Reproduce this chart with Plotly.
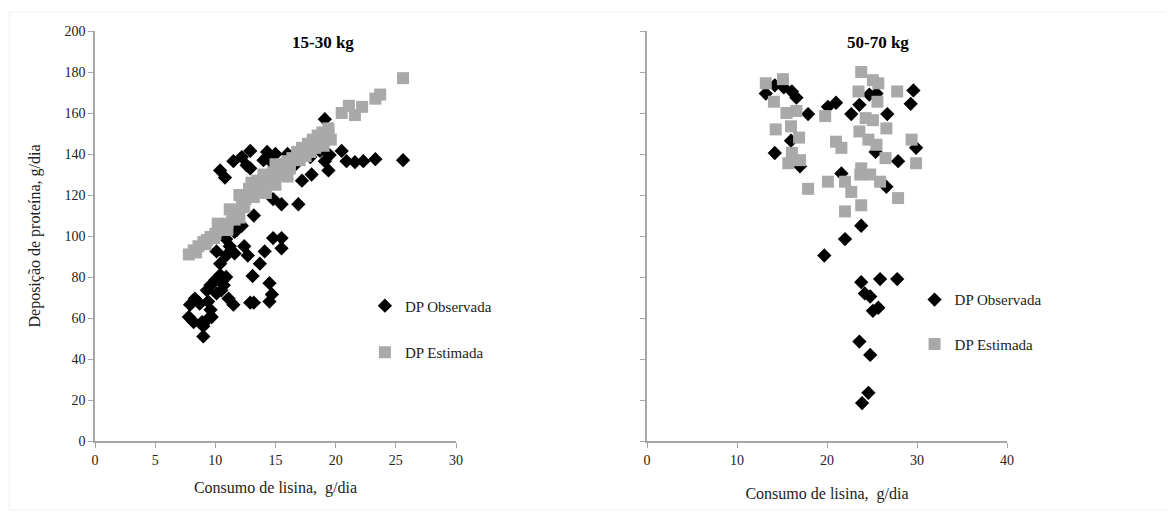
import plotly.graph_objects as go

# ---------------- data: 15-30 kg ----------------
obs1_x = [19.1, 12.9, 14.3, 12.2, 11.5, 10.4, 10.8, 12.6, 12.9, 14.0, 18.7, 19.5, 20.5, 17.9,
          19.1, 19.4, 20.9, 21.6, 22.3, 23.3, 25.6, 18.0, 17.2, 15.5, 16.9, 14.8, 13.2, 12.2,
          11.6, 14.8, 15.5, 15.5, 10.9, 10.1, 11.2, 11.6, 12.4, 12.7, 14.1, 10.4, 13.7, 13.1,
          14.5, 14.7, 14.5, 12.9, 13.2, 11.5, 11.1, 10.9, 10.4, 10.0, 9.6, 9.3, 10.7, 10.5,
          10.1, 9.4, 9.6, 9.7, 8.3, 7.9, 8.7, 7.8, 8.2, 8.9, 9.3, 9.0, 9.0, 10.9, 11.8, 16.0,
          15.0, 13.5, 16.5, 14.5]
obs1_y = [157, 141.5, 141, 138.5, 136.5, 132, 128.5, 134.5, 133, 137, 141.5, 139.5, 141.5, 138.5,
          136.5, 132, 136.5, 136, 136.5, 137.5, 137, 130, 127, 115.5, 115.5, 118, 110, 105,
          102, 99, 99, 94, 98.5, 92.5, 95, 91.5, 95, 90.5, 92.5, 86.5, 86.5, 80.5,
          77, 71.5, 68, 67.5, 67.5, 66.5, 69.5, 80, 81, 78.5, 76, 73.5, 76, 73.5,
          72, 68, 64, 60.5, 69.5, 66.5, 67, 60.5, 58, 58, 59, 56, 51, 90.5, 103, 140,
          140, 123, 134, 137]

est1_x = [7.8, 8.2, 8.6, 9.0, 9.3, 9.6, 10.0, 10.3, 10.6, 11.0, 11.4, 11.8, 12.2, 12.5,
          12.9, 13.3, 13.6, 14.0, 14.4, 14.8, 15.2, 15.6, 16.0, 16.4, 16.8, 17.2, 17.7,
          18.1, 18.5, 18.9, 19.4, 19.4, 19.6, 20.5, 21.1, 21.6, 22.2, 23.3, 23.7, 25.6,
          13.0, 14.0, 15.0, 16.0, 11.0, 12.0, 8.4, 9.2, 9.9, 10.8, 11.6, 12.4, 13.2, 13.9,
          14.6, 15.4, 16.2, 17.0, 17.9, 18.7, 12.0, 12.8, 13.5, 14.2, 15.0, 15.8, 17.5,
          18.3, 19.1, 19.0, 11.2, 10.2]
est1_y = [91, 93, 95, 97, 98, 99.5, 101, 103, 104.5, 106, 109, 112, 115, 118,
          121, 123, 125, 127, 129, 131, 133, 135, 136.5, 138, 141, 143, 145,
          147, 149, 150.5, 152.5, 149, 147, 160, 163.5, 159, 163, 167, 169, 177,
          126, 130, 135, 129, 103, 109, 92, 96, 99, 103, 108, 114, 119, 124,
          127, 130, 133, 137, 141, 146, 120, 123, 127, 121, 125, 131, 139,
          143, 148, 144, 113, 106]

# ---------------- data: 50-70 kg ----------------
obs2_x = [13.2, 14.2, 15.2, 16.1, 16.6, 17.9, 20.1, 21.0, 22.7, 23.6, 24.7, 25.5, 26.7, 29.6,
          29.3, 16.0, 14.2, 17.0, 21.6, 25.4, 27.9, 29.9, 26.6, 23.8, 22.0, 19.7, 23.8, 25.9,
          27.8, 24.2, 24.8, 25.1, 25.7, 23.6, 24.8, 24.6, 23.9]
obs2_y = [169.5, 173.5, 172.5, 170.5, 167.5, 159.5, 163, 165, 159.5, 164, 169, 169.5, 159.5, 171,
          164.5, 146.5, 140.5, 134, 130.5, 141, 136.5, 143, 124, 105, 98.5, 90.5, 77.5, 79,
          79, 72, 70.5, 63.5, 65, 48.5, 42, 23.5, 18.5]

est2_x = [13.2, 15.1, 14.1, 15.5, 16.6, 14.3, 16.0, 16.9, 16.1, 15.7, 17.0, 17.9, 19.8, 21.0,
          21.6, 20.1, 22.0, 22.7, 22.0, 23.8, 23.8, 25.1, 25.7, 23.5, 25.6, 27.8, 24.3, 25.1,
          26.6, 23.6, 24.6, 25.5, 26.5, 29.4, 29.9, 23.8, 23.7, 24.8, 25.9, 27.9]
est2_y = [174.5, 176.5, 165.5, 160, 161, 152, 153.5, 148, 140.5, 135.5, 137, 123, 158.5, 146,
          143, 126.5, 126.5, 121.5, 112, 115, 180, 176, 174.5, 170.5, 165.5, 170.5, 157.5, 156.5,
          152.5, 151, 147, 144.5, 138, 147, 135.5, 133, 130, 130, 126.5, 118.5]

panel_titles = ["15-30 kg", "50-70 kg"]
series_names = ["DP Observada", "DP Estimada"]
x_title = "Consumo de lisina,  g/dia"
y_title = "Deposição de proteína, g/dia"

FONT = "Liberation Serif"
AXIS_COLOR = "#a6a6a6"
GREY = "#a9a9a9"
W, H, OFF = 1174, 513, 8  # page has an 8px body margin


def px(x):
    return (x - OFF) / W


def py(y):
    return 1 - (y - OFF) / H


fig = go.Figure()

# left panel
fig.add_trace(go.Scatter(x=obs1_x, y=obs1_y, mode="markers", name=series_names[0],
                         marker=dict(symbol="diamond", size=11, color="black"),
                         xaxis="x", yaxis="y", legend="legend", legendgroup="a"))
fig.add_trace(go.Scatter(x=est1_x, y=est1_y, mode="markers", name=series_names[1],
                         marker=dict(symbol="square", size=12, color=GREY),
                         xaxis="x", yaxis="y", legend="legend", legendgroup="b"))
# right panel
fig.add_trace(go.Scatter(x=obs2_x, y=obs2_y, mode="markers", name=series_names[0],
                         marker=dict(symbol="diamond", size=11, color="black"),
                         xaxis="x2", yaxis="y2", legend="legend2", legendgroup="c"))
fig.add_trace(go.Scatter(x=est2_x, y=est2_y, mode="markers", name=series_names[1],
                         marker=dict(symbol="square", size=12, color=GREY),
                         xaxis="x2", yaxis="y2", legend="legend2", legendgroup="d"))

ydom = [py(441), py(31)]
axis_common = dict(showline=True, linecolor=AXIS_COLOR, linewidth=1.5, ticks="outside",
                   ticklen=5, tickcolor=AXIS_COLOR, showgrid=False, zeroline=False,
                   automargin=False,
                   tickfont=dict(family=FONT, size=14, color="#222"))

fig.update_layout(
    width=W, height=H,
    margin=dict(l=0, r=0, t=0, b=0, autoexpand=False),
    paper_bgcolor="white", plot_bgcolor="white",
    font=dict(family=FONT, size=14, color="#222"),
    xaxis=dict(domain=[px(95), px(456)], range=[0, 30], dtick=5, anchor="y",
               title=dict(text=x_title, font=dict(family=FONT, size=16), standoff=15),
               **axis_common),
    yaxis=dict(domain=ydom, range=[0, 200], dtick=20, anchor="x",
               title=dict(text=y_title, font=dict(family=FONT, size=16), standoff=20),
               **axis_common),
    xaxis2=dict(domain=[px(647), px(1007)], range=[0, 40], dtick=10, anchor="y2",
                title=dict(text=x_title, font=dict(family=FONT, size=16), standoff=21),
                **axis_common),
    yaxis2=dict(domain=ydom, range=[0, 200], dtick=20, anchor="x2",
                showticklabels=False, **axis_common),
    legend=dict(x=0.304, y=0.4514, xanchor="left", yanchor="top", traceorder="grouped",
                tracegroupgap=24, font=dict(family=FONT, size=15, color="#222"),
                bgcolor="rgba(0,0,0,0)"),
    legend2=dict(x=0.7722, y=0.4634, xanchor="left", yanchor="top", traceorder="grouped",
                 tracegroupgap=22, font=dict(family=FONT, size=15, color="#222"),
                 bgcolor="rgba(0,0,0,0)"),
    annotations=[
        dict(text="<b>" + panel_titles[0] + "</b>", x=px(323), y=py(42),
             xref="paper", yref="paper", showarrow=False, xanchor="center", yanchor="middle",
             font=dict(family=FONT, size=17, color="black")),
        dict(text="<b>" + panel_titles[1] + "</b>", x=px(878), y=py(42),
             xref="paper", yref="paper", showarrow=False, xanchor="center", yanchor="middle",
             font=dict(family=FONT, size=17, color="black")),
    ],
    shapes=[dict(type="rect", xref="paper", yref="paper", x0=px(9), x1=px(1170),
                 y0=py(510), y1=py(12),
                 line=dict(color="#f2f2f2", width=1))],
)

fig.write_html("out.html")
